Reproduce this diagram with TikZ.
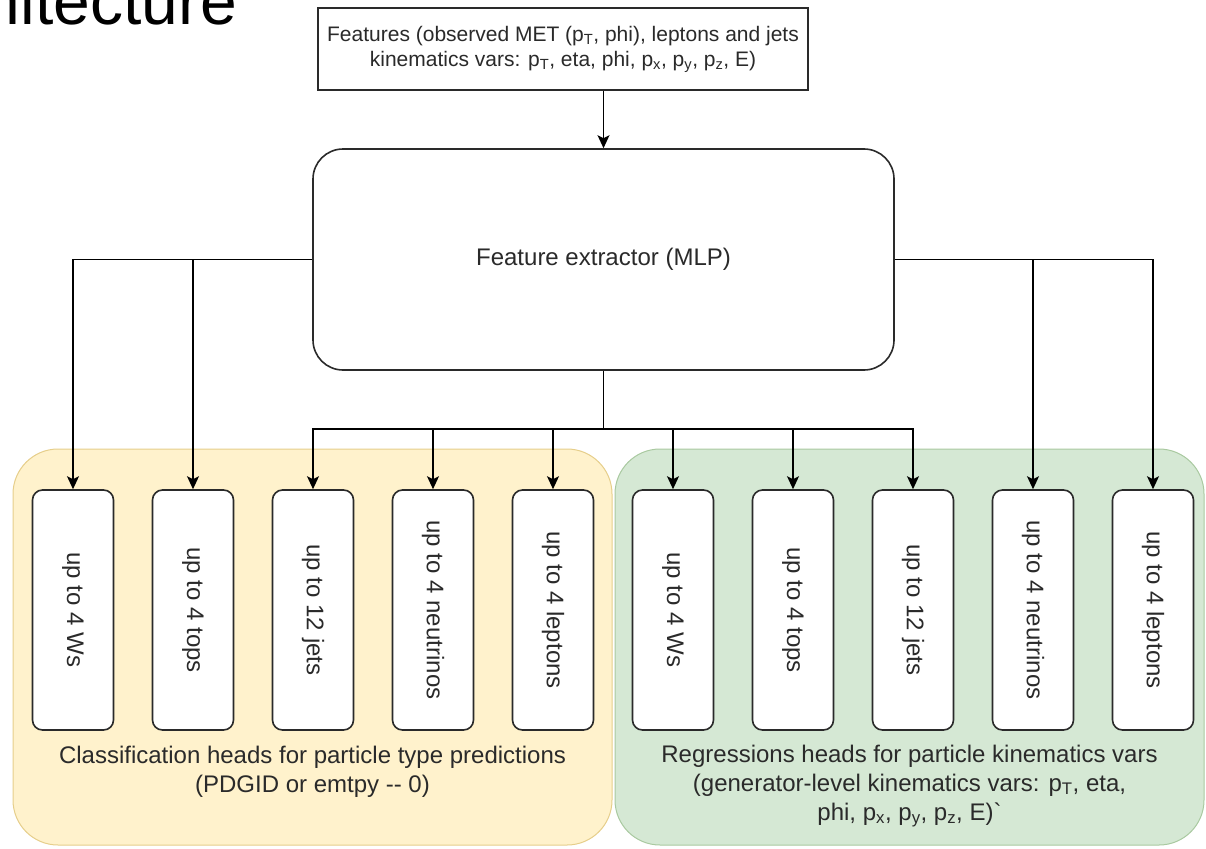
\documentclass[tikz,border=0pt]{standalone}
\usepackage{fontspec}
\setmainfont{Liberation Sans}
\usetikzlibrary{arrows.meta}
\definecolor{yfill}{HTML}{FFF2CC}
\definecolor{ydraw}{HTML}{E6CE8A}
\definecolor{gfill}{HTML}{D5E8D4}
\definecolor{gdraw}{HTML}{A9C9A0}
\definecolor{ink}{HTML}{2A2A2A}
\begin{document}
\begin{tikzpicture}[x=1pt,y=-1pt,
  lbl/.style={font=\fontsize{24}{29}\selectfont, text=ink},
  box/.style={draw=ink, line width=1.6pt, fill=white, rounded corners=10pt},
  head/.style={box, minimum width=81pt, minimum height=240pt, inner sep=0pt, lbl},
  group/.style={line width=1pt, rounded corners=45pt, minimum height=396pt, inner sep=0pt},
  arr/.style={draw=black, line width=1.5pt, -{Stealth[length=13pt,width=12pt,inset=3pt]}},
  wire/.style={draw=black, line width=1.5pt},
]
\useasboundingbox (0,0) rectangle (1206,848);
\clip (0,0) rectangle (1206,848);

\node[anchor=base east, font=\fontsize{66}{70}\selectfont, inner sep=0pt] (title) at (237,25) {Architecture};

\node[group, fill=yfill, draw=ydraw, minimum width=599pt] (gy) at (312.5,647) {};
\node[group, fill=gfill, draw=gdraw, minimum width=589pt] (gg) at (909.5,647) {};

\node[draw=ink, line width=1.6pt, fill=white, align=center, text=ink, font=\fontsize{21}{25}\selectfont, minimum width=490pt, minimum height=82pt, inner sep=0pt] (feat) at (563,49)
  {Features (observed MET (p\textsubscript{T}, phi), leptons and jets\\kinematics vars: p\textsubscript{T}, eta, phi, p\textsubscript{x}, p\textsubscript{y}, p\textsubscript{z}, E)};

\node[box, rounded corners=30pt, minimum width=581pt, minimum height=221pt, lbl] (fe) at (603.5,259.5) {Feature extractor (MLP)};

\node[head] (h1) at (73,610) {\rotatebox{-90}{up to 4 Ws}};
\node[head] (h2) at (193,610) {\rotatebox{-90}{up to 4 tops}};
\node[head] (h3) at (313,610) {\rotatebox{-90}{up to 12 jets}};
\node[head] (h4) at (433,610) {\rotatebox{-90}{up to 4 neutrinos}};
\node[head] (h5) at (553,610) {\rotatebox{-90}{up to 4 leptons}};
\node[head] (h6) at (673,610) {\rotatebox{-90}{up to 4 Ws}};
\node[head] (h7) at (793,610) {\rotatebox{-90}{up to 4 tops}};
\node[head] (h8) at (913,610) {\rotatebox{-90}{up to 12 jets}};
\node[head] (h9) at (1033,610) {\rotatebox{-90}{up to 4 neutrinos}};
\node[head] (h10) at (1153,610) {\rotatebox{-90}{up to 4 leptons}};

\node[lbl, align=center] (cl) at (312.5,772) {Classification heads for particle type predictions\\(PDGID or emtpy -{}- 0)};
\node[lbl, align=center] (rg) at (909.5,786) {Regressions heads for particle kinematics vars\\(generator-level kinematics vars: p\textsubscript{T}, eta,\\phi, p\textsubscript{x}, p\textsubscript{y}, p\textsubscript{z}, E)\textasciigrave};

\draw[arr] (feat.south -| fe.north) -- (fe.north);
\draw[arr] (fe.west) -| (h1.north);
\draw[arr] (fe.west -| h2.north) -- (h2.north);
\draw[arr] (fe.east) -| (h10.north);
\draw[arr] (fe.east -| h9.north) -- (h9.north);
\coordinate (bus) at (603.5,429);
\draw[wire] (fe.south) -- (bus);
\foreach \i in {3,...,8} \draw[arr] (bus) -| (h\i.north);
\end{tikzpicture}
\end{document}
